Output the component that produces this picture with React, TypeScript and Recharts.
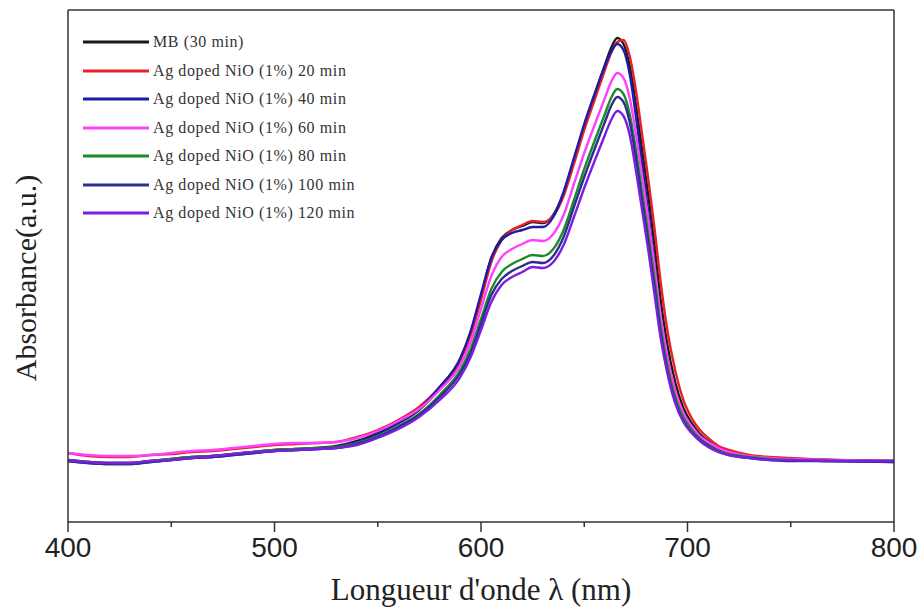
import React from 'react';
import { LineChart, Line, XAxis, YAxis, Legend } from 'recharts';

const wavelength = [400,410,420,430,440,450,460,470,480,490,500,510,520,530,540,550,560,570,580,590,595,600,605,610,615,620,625,630,635,640,645,650,655,660,663,666,669,672,675,678,681,684,687,690,694,698,702,706,710,715,720,730,740,750,770,800];

const mb30 = [0.62,0.60,0.59,0.59,0.61,0.63,0.65,0.66,0.68,0.70,0.72,0.73,0.74,0.76,0.81,0.89,0.99,1.12,1.34,1.62,1.89,2.26,2.64,2.84,2.92,2.96,3.00,2.99,3.07,3.29,3.62,3.96,4.27,4.57,4.74,4.84,4.78,4.56,4.17,3.72,3.27,2.77,2.22,1.80,1.40,1.14,0.99,0.88,0.81,0.74,0.70,0.66,0.64,0.63,0.62,0.61];
const ag20 = [0.69,0.66,0.65,0.65,0.67,0.68,0.70,0.71,0.73,0.75,0.77,0.78,0.79,0.80,0.85,0.92,1.02,1.15,1.35,1.62,1.87,2.22,2.60,2.82,2.92,2.97,3.01,3.00,3.06,3.26,3.58,3.92,4.22,4.52,4.69,4.80,4.82,4.66,4.32,3.88,3.43,2.94,2.40,1.95,1.52,1.22,1.04,0.92,0.84,0.76,0.72,0.67,0.65,0.64,0.62,0.61];
const ag40 = [0.61,0.59,0.58,0.58,0.60,0.62,0.64,0.65,0.67,0.69,0.71,0.72,0.73,0.75,0.80,0.88,0.99,1.13,1.35,1.64,1.91,2.28,2.64,2.82,2.89,2.92,2.95,2.95,3.05,3.30,3.64,3.98,4.28,4.56,4.70,4.78,4.72,4.48,4.06,3.58,3.10,2.58,2.04,1.66,1.30,1.07,0.94,0.85,0.78,0.72,0.68,0.65,0.63,0.62,0.61,0.60];
const ag60 = [0.69,0.67,0.66,0.66,0.67,0.69,0.71,0.72,0.74,0.76,0.78,0.79,0.79,0.80,0.84,0.91,1.01,1.13,1.32,1.57,1.80,2.13,2.46,2.65,2.73,2.78,2.82,2.81,2.88,3.07,3.38,3.69,3.97,4.24,4.40,4.49,4.44,4.24,3.88,3.46,3.03,2.56,2.06,1.68,1.32,1.09,0.96,0.86,0.80,0.74,0.70,0.66,0.64,0.63,0.62,0.61];
const ag80 = [0.62,0.60,0.59,0.59,0.61,0.63,0.65,0.66,0.68,0.70,0.72,0.73,0.74,0.75,0.79,0.86,0.96,1.08,1.27,1.52,1.73,2.03,2.33,2.50,2.58,2.63,2.67,2.66,2.73,2.92,3.22,3.53,3.81,4.08,4.24,4.33,4.28,4.08,3.72,3.30,2.88,2.43,1.95,1.59,1.25,1.04,0.92,0.83,0.77,0.71,0.68,0.65,0.63,0.62,0.61,0.61];
const ag100 = [0.61,0.59,0.58,0.58,0.60,0.62,0.64,0.65,0.67,0.69,0.71,0.72,0.73,0.74,0.78,0.85,0.95,1.07,1.25,1.49,1.69,1.98,2.27,2.43,2.51,2.56,2.60,2.59,2.66,2.85,3.15,3.45,3.73,4.00,4.16,4.25,4.20,4.00,3.64,3.22,2.80,2.35,1.89,1.54,1.21,1.01,0.90,0.82,0.76,0.70,0.67,0.64,0.62,0.61,0.61,0.60];
const ag120 = [0.62,0.60,0.59,0.59,0.61,0.62,0.64,0.66,0.68,0.70,0.71,0.72,0.73,0.74,0.77,0.84,0.93,1.05,1.22,1.45,1.65,1.92,2.20,2.37,2.45,2.50,2.55,2.54,2.60,2.77,3.05,3.34,3.61,3.87,4.02,4.11,4.06,3.87,3.52,3.12,2.72,2.28,1.84,1.51,1.19,1.00,0.89,0.81,0.75,0.70,0.67,0.64,0.62,0.62,0.61,0.61];

const seriesNames = [
  'MB (30 min)',
  'Ag doped NiO (1%) 20 min',
  'Ag doped NiO (1%) 40 min',
  'Ag doped NiO (1%) 60 min',
  'Ag doped NiO (1%) 80 min',
  'Ag doped NiO (1%) 100 min',
  'Ag doped NiO (1%) 120 min',
];
const seriesValues = [mb30, ag20, ag40, ag60, ag80, ag100, ag120];
const seriesColors = ['#1a1a1a', '#e8202a', '#1c1ca8', '#ff40ff', '#1a8c2a', '#2e2e8c', '#7a1fe0'];

const xTicks = [400, 450, 500, 550, 600, 650, 700, 750, 800];

const data = wavelength.map((w, i) => {
  const row: Record<string, number> = { w };
  seriesValues.forEach((s, k) => { row['s' + k] = s[i]; });
  return row;
});

const AXIS = '#333';

const XTick = (props: any) => {
  const { x, y, payload } = props;
  const v = payload.value;
  const major = v % 100 === 0;
  return (
    <g>
      <line x1={x} x2={x} y1={y} y2={y + (major ? 10 : 5)} stroke={AXIS} strokeWidth={1.5} />
      {major && (
        <text
          x={x}
          y={y + 35}
          textAnchor="middle"
          fontFamily='"Liberation Sans", Arial, sans-serif'
          fontSize={28}
          fill="#222"
        >
          {v}
        </text>
      )}
    </g>
  );
};

const XTitle = (props: any) => {
  const vb = props.viewBox || {};
  const cx = vb.x + vb.width / 2;
  return (
    <text
      x={cx}
      y={vb.y + 78}
      textAnchor="middle"
      fontFamily='"Liberation Serif", "Times New Roman", serif'
      fontSize={31}
      fill="#222"
    >
      Longueur d'onde λ (nm)
    </text>
  );
};

const YTitle = (props: any) => {
  const vb = props.viewBox || {};
  const x = (vb.x || 67) + (vb.width || 1);
  return (
    <text
      transform={`translate(${x - 32},278) rotate(-90)`}
      textAnchor="middle"
      fontFamily='"Liberation Serif", "Times New Roman", serif'
      fontSize={30}
      fill="#222"
    >
      Absorbance(a.u.)
    </text>
  );
};

const LegendBox = () => (
  <div
    style={{
      fontFamily: '"Liberation Serif", "Times New Roman", serif',
      fontSize: 16,
      letterSpacing: 0.6,
      color: '#333',
    }}
  >
    {seriesNames.map((name, i) => (
      <div key={name} style={{ display: 'flex', alignItems: 'center', height: 28.5, whiteSpace: 'nowrap' }}>
        <svg width={66} height={6} style={{ marginRight: 4 }}>
          <line x1={0} x2={66} y1={3} y2={3} stroke={seriesColors[i]} strokeWidth={3} />
        </svg>
        <span>{name}</span>
      </div>
    ))}
  </div>
);

export default function App() {
  return (
    <div style={{ position: 'absolute', left: 0, top: 0, background: '#fff' }}>
      <LineChart width={919} height={611} data={data} margin={{ top: 9, right: 24, bottom: 0, left: 67 }}>
        <XAxis
          dataKey="w"
          type="number"
          domain={[400, 800]}
          ticks={xTicks}
          interval={0}
          height={89}
          tickSize={0}
          tickMargin={0}
          tickLine={false}
          tick={<XTick />}
          axisLine={{ stroke: AXIS, strokeWidth: 1.5 }}
          label={<XTitle />}
        />
        <XAxis
          xAxisId="top"
          orientation="top"
          dataKey="w"
          type="number"
          domain={[400, 800]}
          height={1}
          tick={false}
          tickLine={false}
          axisLine={{ stroke: AXIS, strokeWidth: 1.5 }}
        />
        <YAxis
          domain={[0, 5.12]}
          width={1}
          tick={false}
          tickLine={false}
          allowDataOverflow
          axisLine={{ stroke: AXIS, strokeWidth: 1.5 }}
          label={<YTitle />}
        />
        <YAxis
          yAxisId="right"
          orientation="right"
          domain={[0, 5.12]}
          width={1}
          tick={false}
          tickLine={false}
          axisLine={{ stroke: AXIS, strokeWidth: 1.5 }}
        />
        <Legend
          layout="vertical"
          align="center"
          verticalAlign="middle"
          content={<LegendBox />}
          wrapperStyle={{ left: 83, top: 28, width: 330 }}
        />
        {seriesNames.map((name, k) => (
          <Line
            key={name}
            type="monotone"
            dataKey={'s' + k}
            name={name}
            stroke={seriesColors[k]}
            strokeWidth={2.4}
            dot={false}
            activeDot={false}
            isAnimationActive={false}
          />
        ))}
      </LineChart>
    </div>
  );
}
